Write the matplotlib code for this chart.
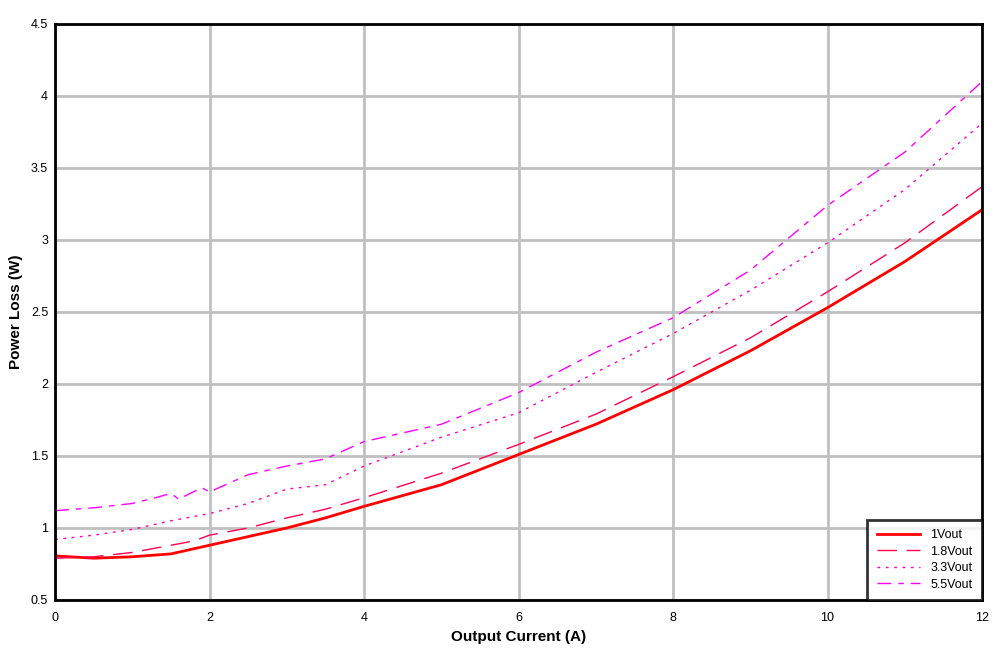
import numpy as np
import matplotlib
matplotlib.use('Agg')
import matplotlib.pyplot as plt

plt.rcParams['font.family'] = ['Liberation Sans', 'DejaVu Sans']

x_1v = [0, 0.5, 1, 1.5, 2, 2.5, 3, 3.5, 4, 5, 6, 7, 8, 9, 10, 11, 12]
y_1v = [0.806, 0.79, 0.80, 0.82, 0.88, 0.94, 1.0, 1.07, 1.15, 1.3, 1.51, 1.72, 1.96, 2.23, 2.53, 2.85, 3.21]

x_18v = [0, 0.5, 1, 1.5, 1.8, 2, 2.5, 3, 3.5, 4, 5, 6, 7, 8, 9, 10, 11, 12]
y_18v = [0.79, 0.80, 0.83, 0.88, 0.91, 0.95, 1.0, 1.07, 1.13, 1.21, 1.38, 1.58, 1.79, 2.05, 2.32, 2.64, 2.98, 3.37]

x_33v = [0, 0.5, 1, 1.5, 2, 2.5, 3, 3.5, 4, 5, 6, 7, 8, 9, 10, 11, 12]
y_33v = [0.92, 0.95, 0.99, 1.05, 1.1, 1.17, 1.27, 1.3, 1.43, 1.63, 1.8, 2.08, 2.35, 2.65, 2.98, 3.35, 3.81]

x_55v = [0, 0.5, 1, 1.3, 1.5, 1.6, 1.9, 2, 2.5, 3, 3.5, 4, 5, 6, 7, 8, 9, 10, 11, 12]
y_55v = [1.12, 1.14, 1.17, 1.21, 1.24, 1.2, 1.28, 1.25, 1.37, 1.43, 1.48, 1.6, 1.72, 1.94, 2.22, 2.46, 2.79, 3.24, 3.61, 4.1]

fig = plt.figure(figsize=(10.06, 6.52), dpi=100)
ax = fig.add_axes([0.0547, 0.0798, 0.9215, 0.8834])

ax.plot(x_1v, y_1v, color='#ff0000', lw=2, label='1Vout')
ax.plot(x_18v, y_18v, color='#ff0050', lw=1, dashes=(14, 7), label='1.8Vout')
ax.plot(x_33v, y_33v, color='#ff00c0', lw=1, dashes=(2, 4), label='3.3Vout')
ax.plot(x_55v, y_55v, color='#ff00ff', lw=1, dashes=(10, 5, 4, 5), label='5.5Vout')

ax.set_xlim(0, 12)
ax.set_ylim(0.5, 4.5)
ax.set_xticks(np.arange(0, 13, 2))
ax.set_yticks(np.arange(0.5, 4.51, 0.5))
ax.set_yticklabels(['0.5', '1', '1.5', '2', '2.5', '3', '3.5', '4', '4.5'])
ax.grid(True, color='#c0c0c0', lw=2)
ax.set_axisbelow(True)
ax.tick_params(axis='x', length=0, labelsize=9, pad=9)
ax.tick_params(axis='y', length=0, labelsize=9, pad=5)
for s in ax.spines.values():
    s.set_linewidth(2)
    s.set_color('black')

ax.set_xlabel('Output Current (A)', fontsize=11, fontweight='bold', labelpad=4)
ax.set_ylabel('Power Loss (W)', fontsize=11, fontweight='bold', labelpad=6)

leg = ax.legend(loc='lower right', fontsize=9, frameon=True, fancybox=False,
                borderaxespad=0, handlelength=3.5, labelspacing=0.35, borderpad=0.75)
leg.get_frame().set_edgecolor('black')
leg.get_frame().set_linewidth(2)

fig.savefig('out.png', dpi=100)
